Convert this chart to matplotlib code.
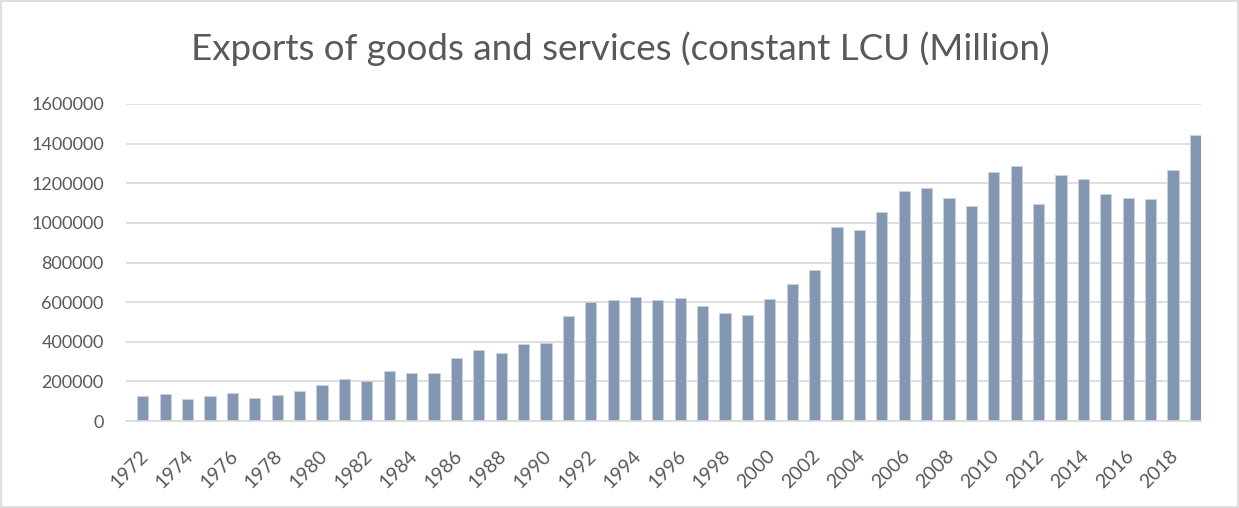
import matplotlib.pyplot as plt
from matplotlib.patches import Rectangle

years = list(range(1972, 2020))
exports = [
    128000, 137000, 111000, 125000, 143000, 118000, 132000, 152000,
    182000, 213000, 201000, 252000, 243000, 241000, 320000, 360000,
    344000, 390000, 395000, 529000, 601000, 609000, 628000, 609000,
    621000, 581000, 547000, 534000, 616000, 694000, 763000, 977000,
    966000, 1056000, 1159000, 1178000, 1124000, 1086000, 1257000, 1287000,
    1094000, 1242000, 1223000, 1148000, 1128000, 1121000, 1265000, 1445000,
]
yticks = list(range(0, 1600001, 200000))

plt.rcParams['font.family'] = ['Lato', 'DejaVu Sans']
grey = '#595959'

fig = plt.figure(figsize=(12.39, 5.08), dpi=100)
ax = fig.add_axes([126 / 1239, 87 / 508, 1075 / 1239, 317 / 508])

# bars sit in the right half of each category slot
x = [i + 0.25 for i in range(len(years))]
ax.bar(x, exports, width=0.5, color='#8497b0', edgecolor='#c9d3e2',
       linewidth=0.6, zorder=2)

ax.set_xlim(-0.5, len(years) - 0.5)
ax.set_ylim(0, 1600000)
ax.set_yticks(yticks)
ax.set_yticklabels([str(v) for v in yticks], fontsize=13, color=grey)
ax.grid(axis='y', color='#d9d9d9', linewidth=1.2, zorder=0)

ax.set_xticks([i + 0.1 for i in range(0, len(years), 2)])
ax.set_xticklabels([str(y) for y in years[::2]], rotation=45, ha='right',
                   rotation_mode='anchor', fontsize=14, color=grey)
ax.tick_params(axis='x', length=0, pad=19)
ax.tick_params(axis='y', length=0, pad=16)

for side in ['top', 'right', 'left']:
    ax.spines[side].set_visible(False)
ax.spines['bottom'].set_color('#d9d9d9')
ax.spines['bottom'].set_linewidth(1.2)

fig.text(0.501, 0.905, 'Exports of goods and services (constant LCU (Million)',
         ha='center', va='center', fontsize=26.5, color=grey)

# thin frame round the whole chart
fig.patches.append(Rectangle((0.001, 0.001), 0.998, 0.997, transform=fig.transFigure,
                             fill=False, edgecolor='#d9d9d9', linewidth=1.2))

fig.savefig('out.png', dpi=100)
